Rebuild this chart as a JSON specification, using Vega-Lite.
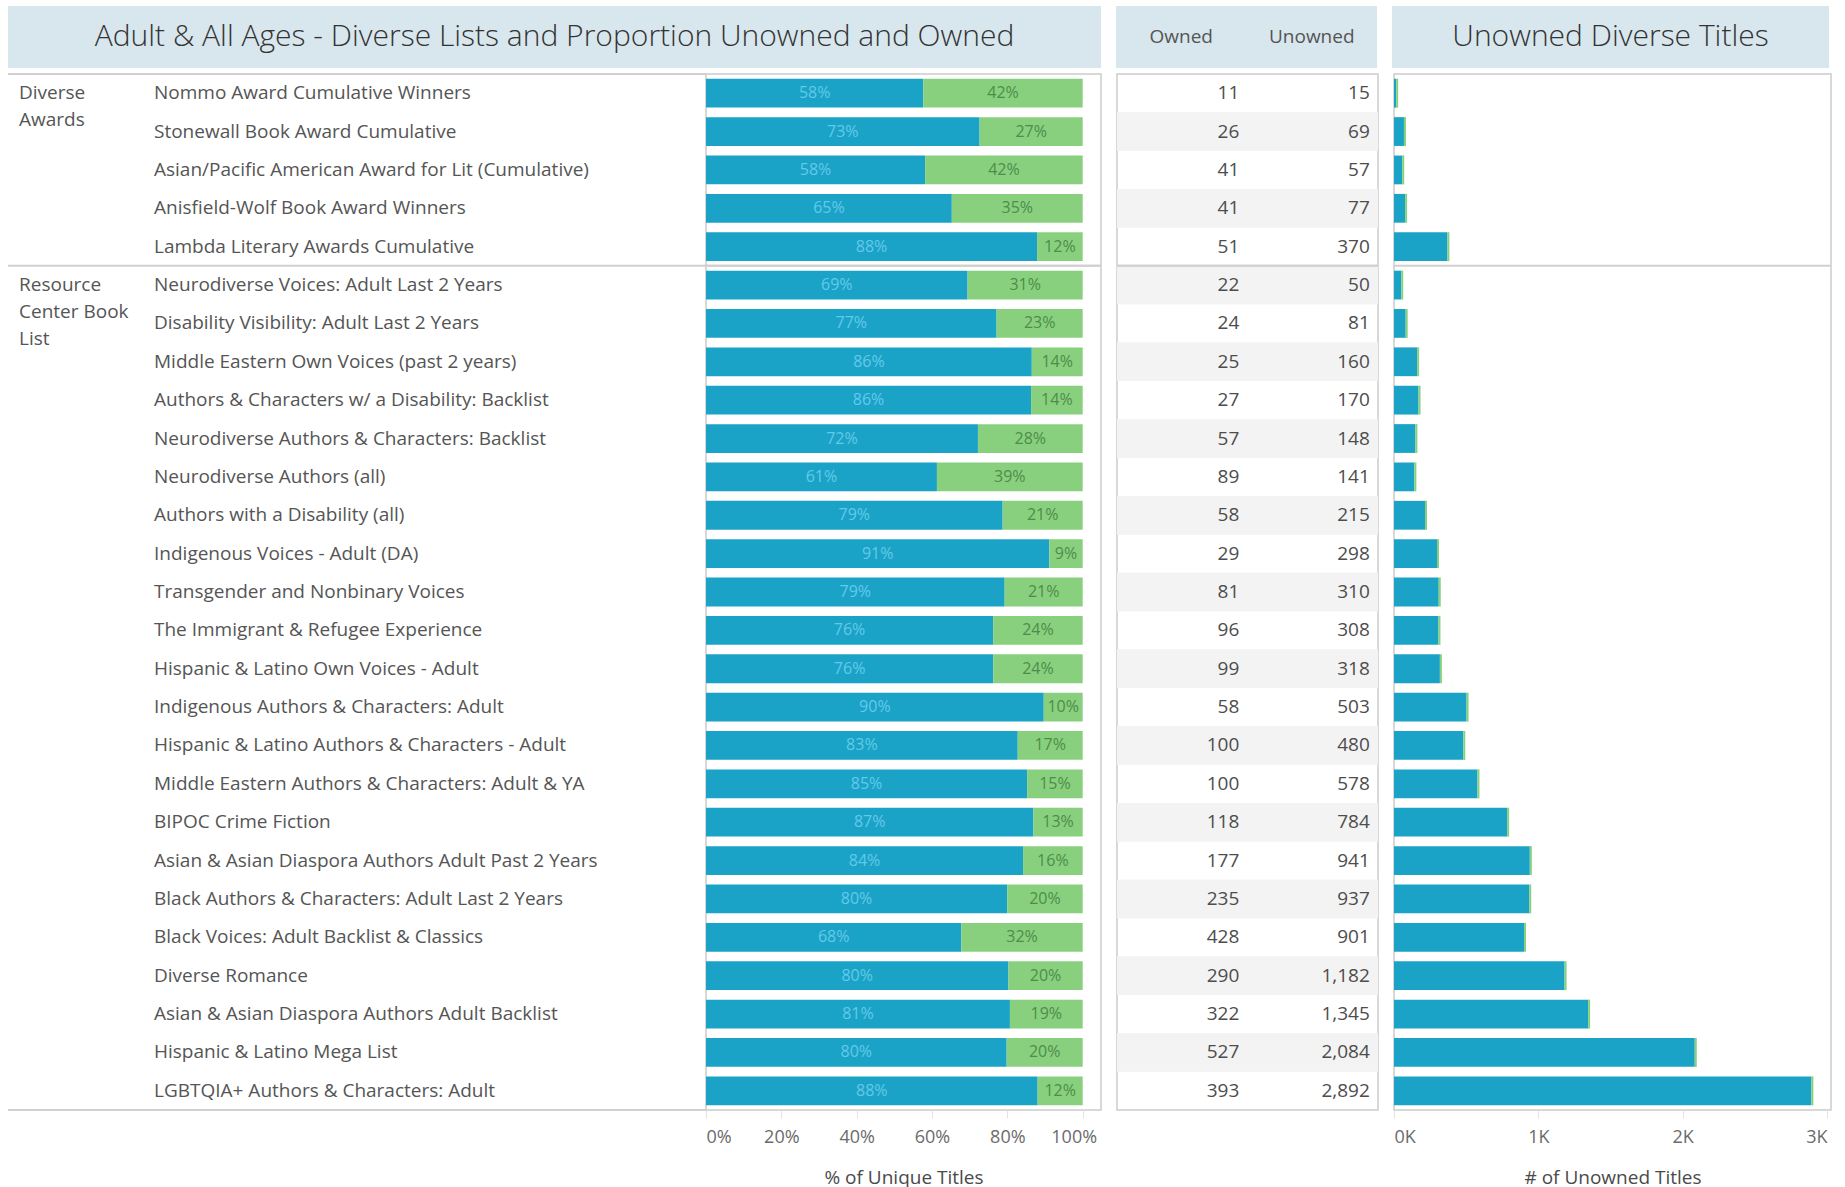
{
  "$schema": "https://vega.github.io/schema/vega-lite/v6.json",
  "padding": {"left": 7, "top": 6, "right": 0, "bottom": 0},
  "background": "white",
  "datasets": {
    "lists": [
      {"group": "Diverse Awards", "list": "Nommo Award Cumulative Winners", "owned": 11, "unowned": 15},
      {"group": "Diverse Awards", "list": "Stonewall Book Award Cumulative", "owned": 26, "unowned": 69},
      {"group": "Diverse Awards", "list": "Asian/Pacific American Award for Lit (Cumulative)", "owned": 41, "unowned": 57},
      {"group": "Diverse Awards", "list": "Anisfield-Wolf Book Award Winners", "owned": 41, "unowned": 77},
      {"group": "Diverse Awards", "list": "Lambda Literary Awards Cumulative", "owned": 51, "unowned": 370},
      {"group": "Resource Center Book List", "list": "Neurodiverse Voices: Adult Last 2 Years", "owned": 22, "unowned": 50},
      {"group": "Resource Center Book List", "list": "Disability Visibility: Adult Last 2 Years", "owned": 24, "unowned": 81},
      {"group": "Resource Center Book List", "list": "Middle Eastern Own Voices (past 2 years)", "owned": 25, "unowned": 160},
      {"group": "Resource Center Book List", "list": "Authors & Characters w/ a Disability: Backlist", "owned": 27, "unowned": 170},
      {"group": "Resource Center Book List", "list": "Neurodiverse Authors & Characters: Backlist", "owned": 57, "unowned": 148},
      {"group": "Resource Center Book List", "list": "Neurodiverse Authors (all)", "owned": 89, "unowned": 141},
      {"group": "Resource Center Book List", "list": "Authors with a Disability (all)", "owned": 58, "unowned": 215},
      {"group": "Resource Center Book List", "list": "Indigenous Voices - Adult (DA)", "owned": 29, "unowned": 298},
      {"group": "Resource Center Book List", "list": "Transgender and Nonbinary Voices", "owned": 81, "unowned": 310},
      {"group": "Resource Center Book List", "list": "The Immigrant & Refugee Experience", "owned": 96, "unowned": 308},
      {"group": "Resource Center Book List", "list": "Hispanic & Latino Own Voices - Adult", "owned": 99, "unowned": 318},
      {"group": "Resource Center Book List", "list": "Indigenous Authors & Characters: Adult", "owned": 58, "unowned": 503},
      {"group": "Resource Center Book List", "list": "Hispanic & Latino Authors & Characters - Adult", "owned": 100, "unowned": 480},
      {"group": "Resource Center Book List", "list": "Middle Eastern Authors & Characters: Adult & YA", "owned": 100, "unowned": 578},
      {"group": "Resource Center Book List", "list": "BIPOC Crime Fiction", "owned": 118, "unowned": 784},
      {"group": "Resource Center Book List", "list": "Asian & Asian Diaspora Authors Adult Past 2 Years", "owned": 177, "unowned": 941},
      {"group": "Resource Center Book List", "list": "Black Authors & Characters: Adult Last 2 Years", "owned": 235, "unowned": 937},
      {"group": "Resource Center Book List", "list": "Black Voices: Adult Backlist & Classics", "owned": 428, "unowned": 901},
      {"group": "Resource Center Book List", "list": "Diverse Romance", "owned": 290, "unowned": 1182},
      {"group": "Resource Center Book List", "list": "Asian & Asian Diaspora Authors Adult Backlist", "owned": 322, "unowned": 1345},
      {"group": "Resource Center Book List", "list": "Hispanic & Latino Mega List", "owned": 527, "unowned": 2084},
      {"group": "Resource Center Book List", "list": "LGBTQIA+ Authors & Characters: Adult", "owned": 393, "unowned": 2892}
    ],
    "groupLabels": [
      {"group": "Diverse Awards", "label": "Diverse\nAwards"},
      {"group": "Resource Center Book List", "label": "Resource\nCenter Book\nList"}
    ],
    "headTitle": [{"t": "Adult & All Ages - Diverse Lists and Proportion Unowned and Owned"}],
    "headCols": [{"col": "Owned"}, {"col": "Unowned"}],
    "headRight": [{"t": "Unowned Diverse Titles"}]
  },
  "config": {
    "font": "Open Sans",
    "view": {"stroke": "#cccccc", "strokeWidth": 1.5},
    "axis": {
      "labelFont": "Open Sans", "titleFont": "Open Sans",
      "labelFontSize": 18, "labelColor": "#6b6b6b",
      "titleFontSize": 19, "titleColor": "#4a4a4a", "titleFontWeight": "normal",
      "domain": false, "grid": false, "tickColor": "#e3e3e3", "tickSize": 8,
      "labelPadding": 10.5, "titlePadding": 22
    }
  },
  "spacing": 5,
  "vconcat": [
    {
      "spacing": 15,
      "hconcat": [
        {
          "width": 1093, "height": 62,
          "view": {"fill": "#d8e6ed", "stroke": null},
          "data": {"name": "headTitle"},
          "mark": {"type": "text", "fontSize": 30, "fontWeight": 300, "color": "#333333", "baseline": "middle"},
          "encoding": {"text": {"field": "t"}}
        },
        {
          "width": 261, "height": 62,
          "view": {"fill": "#d8e6ed", "stroke": null},
          "data": {"name": "headCols"},
          "mark": {"type": "text", "fontSize": 19, "color": "#555555", "baseline": "middle"},
          "encoding": {
            "x": {"field": "col", "type": "nominal", "sort": null, "scale": {"paddingInner": 0, "paddingOuter": 0}, "axis": null},
            "text": {"field": "col"}
          }
        },
        {
          "width": 437, "height": 62,
          "view": {"fill": "#d8e6ed", "stroke": null},
          "data": {"name": "headRight"},
          "mark": {"type": "text", "fontSize": 30, "fontWeight": 300, "color": "#333333", "baseline": "middle"},
          "encoding": {"text": {"field": "t"}}
        }
      ]
    },
    {
      "spacing": 12,
      "hconcat": [
        {
          "spacing": 0,
          "bounds": "flush",
          "hconcat": [
            {
              "width": 698, "height": 1036,
              "view": {"stroke": null},
              "data": {"name": "lists"},
              "transform": [
                {"window": [{"op": "row_number", "as": "rn"}], "groupby": ["group"]},
                {"window": [{"op": "row_number", "as": "idx"}]},
                {"joinaggregate": [{"op": "count", "as": "n"}]},
                {"lookup": "group", "from": {"data": {"name": "groupLabels"}, "key": "group", "fields": ["label"]}}
              ],
              "layer": [
                {
                  "mark": {"type": "rule", "color": "#d0d0d0", "strokeWidth": 2},
                  "encoding": {
                    "y": {"field": "list", "type": "nominal", "sort": null, "bandPosition": 0,
                      "scale": {"paddingInner": 0, "paddingOuter": 0}, "axis": null},
                    "opacity": {"condition": {"test": "datum.rn == 1", "value": 1}, "value": 0}
                  }
                },
                {
                  "mark": {"type": "rule", "color": "#d0d0d0", "strokeWidth": 2},
                  "encoding": {
                    "y": {"field": "list", "type": "nominal", "sort": null, "bandPosition": 1, "axis": null},
                    "opacity": {"condition": {"test": "datum.idx == datum.n", "value": 1}, "value": 0}
                  }
                },
                {
                  "mark": {"type": "text", "align": "left", "baseline": "middle", "fontSize": 19, "color": "#555555"},
                  "encoding": {
                    "y": {"field": "list", "type": "nominal", "sort": null, "axis": null},
                    "x": {"value": 146},
                    "text": {"field": "list"}
                  }
                },
                {
                  "mark": {"type": "text", "align": "left", "baseline": "line-top", "lineHeight": 27, "lineBreak": "\n", "fontSize": 19, "color": "#555555", "dy": 6},
                  "encoding": {
                    "y": {"field": "list", "type": "nominal", "sort": null, "bandPosition": 0, "axis": null},
                    "x": {"value": 11},
                    "text": {"condition": {"test": "datum.rn == 1", "field": "label"}, "value": ""}
                  }
                }
              ]
            },
            {
              "width": 395, "height": 1036,
              "data": {"name": "lists"},
              "transform": [
                {"window": [{"op": "row_number", "as": "idx"}]},
                {"fold": ["unowned", "owned"], "as": ["status", "count"]},
                {"stack": "count", "groupby": ["list"], "offset": "normalize", "sort": [{"field": "status", "order": "descending"}], "as": ["p0", "p1"]},
                {"calculate": "(datum.p0 + datum.p1) / 2", "as": "pmid"},
                {"calculate": "datum.p1 - datum.p0", "as": "share"}
              ],
              "layer": [
                {
                  "mark": {"type": "bar", "height": {"band": 0.75}},
                  "encoding": {
                    "y": {"field": "list", "type": "nominal", "sort": null, "scale": {"paddingInner": 0, "paddingOuter": 0}, "axis": null},
                    "x": {"field": "p0", "type": "quantitative", "scale": {"domain": [0, 1.0486], "nice": false},
                      "axis": {"values": [0, 0.2, 0.4, 0.6, 0.8, 1], "format": ".0%", "title": "% of Unique Titles", "labelFlush": true,
                        "labelOffset": {"condition": {"test": "datum.value == 1", "value": -9}, "value": 0}}},
                    "x2": {"field": "p1"},
                    "color": {"condition": {"test": "datum.status == 'unowned'", "value": "#1ba3c7"}, "value": "#88d07e"}
                  }
                },
                {
                  "mark": {"type": "text", "fontSize": 16, "baseline": "middle"},
                  "encoding": {
                    "y": {"field": "list", "type": "nominal", "sort": null, "axis": null},
                    "x": {"field": "pmid", "type": "quantitative",
                      "axis": {"values": [0, 0.2, 0.4, 0.6, 0.8, 1], "format": ".0%", "title": "% of Unique Titles", "labelFlush": true,
                        "labelOffset": {"condition": {"test": "datum.value == 1", "value": -9}, "value": 0}}},
                    "text": {"field": "share", "format": ".0%"},
                    "color": {"condition": {"test": "datum.status == 'unowned'", "value": "#63c9ea"}, "value": "#4e8c4b"}
                  }
                },
                {
                  "mark": {"type": "rule", "color": "#d0d0d0", "strokeWidth": 2},
                  "encoding": {
                    "y": {"field": "list", "type": "nominal", "sort": null, "bandPosition": 0, "axis": null},
                    "opacity": {"condition": {"test": "datum.idx == 6", "value": 1}, "value": 0}
                  }
                }
              ]
            }
          ]
        },
        {
          "width": 261, "height": 1036,
          "data": {"name": "lists"},
          "transform": [
            {"window": [{"op": "row_number", "as": "idx"}]},
            {"fold": ["owned", "unowned"], "as": ["col", "val"]}
          ],
          "layer": [
            {
              "mark": {"type": "rect", "color": "#f3f3f3"},
              "encoding": {
                "y": {"field": "list", "type": "nominal", "sort": null, "scale": {"paddingInner": 0, "paddingOuter": 0}, "axis": null},
                "opacity": {"condition": {"test": "datum.idx % 2 == 0", "value": 1}, "value": 0}
              }
            },
            {
              "mark": {"type": "text", "align": "right", "baseline": "middle", "fontSize": 19, "color": "#4d4d4d", "dx": 57},
              "encoding": {
                "y": {"field": "list", "type": "nominal", "sort": null, "axis": null},
                "x": {"field": "col", "type": "nominal", "sort": null, "scale": {"domain": ["owned", "unowned"], "paddingInner": 0, "paddingOuter": 0}, "axis": null},
                "text": {"field": "val", "type": "quantitative", "format": ","}
              }
            },
            {
              "mark": {"type": "rule", "color": "#d0d0d0", "strokeWidth": 2},
              "encoding": {
                "y": {"field": "list", "type": "nominal", "sort": null, "bandPosition": 0, "axis": null},
                "opacity": {"condition": {"test": "datum.idx == 6", "value": 1}, "value": 0}
              }
            }
          ]
        },
        {
          "width": 437, "height": 1036,
          "data": {"name": "lists"},
          "transform": [
            {"window": [{"op": "row_number", "as": "idx"}]}
          ],
          "layer": [
            {
              "mark": {"type": "bar", "height": {"band": 0.75}, "color": "#1ba3c7"},
              "encoding": {
                "y": {"field": "list", "type": "nominal", "sort": null, "scale": {"paddingInner": 0, "paddingOuter": 0}, "axis": null},
                "x": {"field": "unowned", "type": "quantitative", "scale": {"domain": [0, 3028], "nice": false},
                  "axis": {"values": [0, 1000, 2000, 3000], "labelExpr": "(datum.value / 1000) + 'K'", "labelFlush": 10, "title": "# of Unowned Titles"}}
              }
            },
            {
              "mark": {"type": "tick", "color": "#88d07e", "thickness": 2, "size": 29, "xOffset": 1, "opacity": 1},
              "encoding": {
                "y": {"field": "list", "type": "nominal", "sort": null, "axis": null},
                "x": {"field": "unowned", "type": "quantitative",
                  "axis": {"values": [0, 1000, 2000, 3000], "labelExpr": "(datum.value / 1000) + 'K'", "labelFlush": 10, "title": "# of Unowned Titles"}}
              }
            },
            {
              "mark": {"type": "rule", "color": "#d0d0d0", "strokeWidth": 2},
              "encoding": {
                "y": {"field": "list", "type": "nominal", "sort": null, "bandPosition": 0, "axis": null},
                "opacity": {"condition": {"test": "datum.idx == 6", "value": 1}, "value": 0}
              }
            }
          ]
        }
      ]
    }
  ]
}
